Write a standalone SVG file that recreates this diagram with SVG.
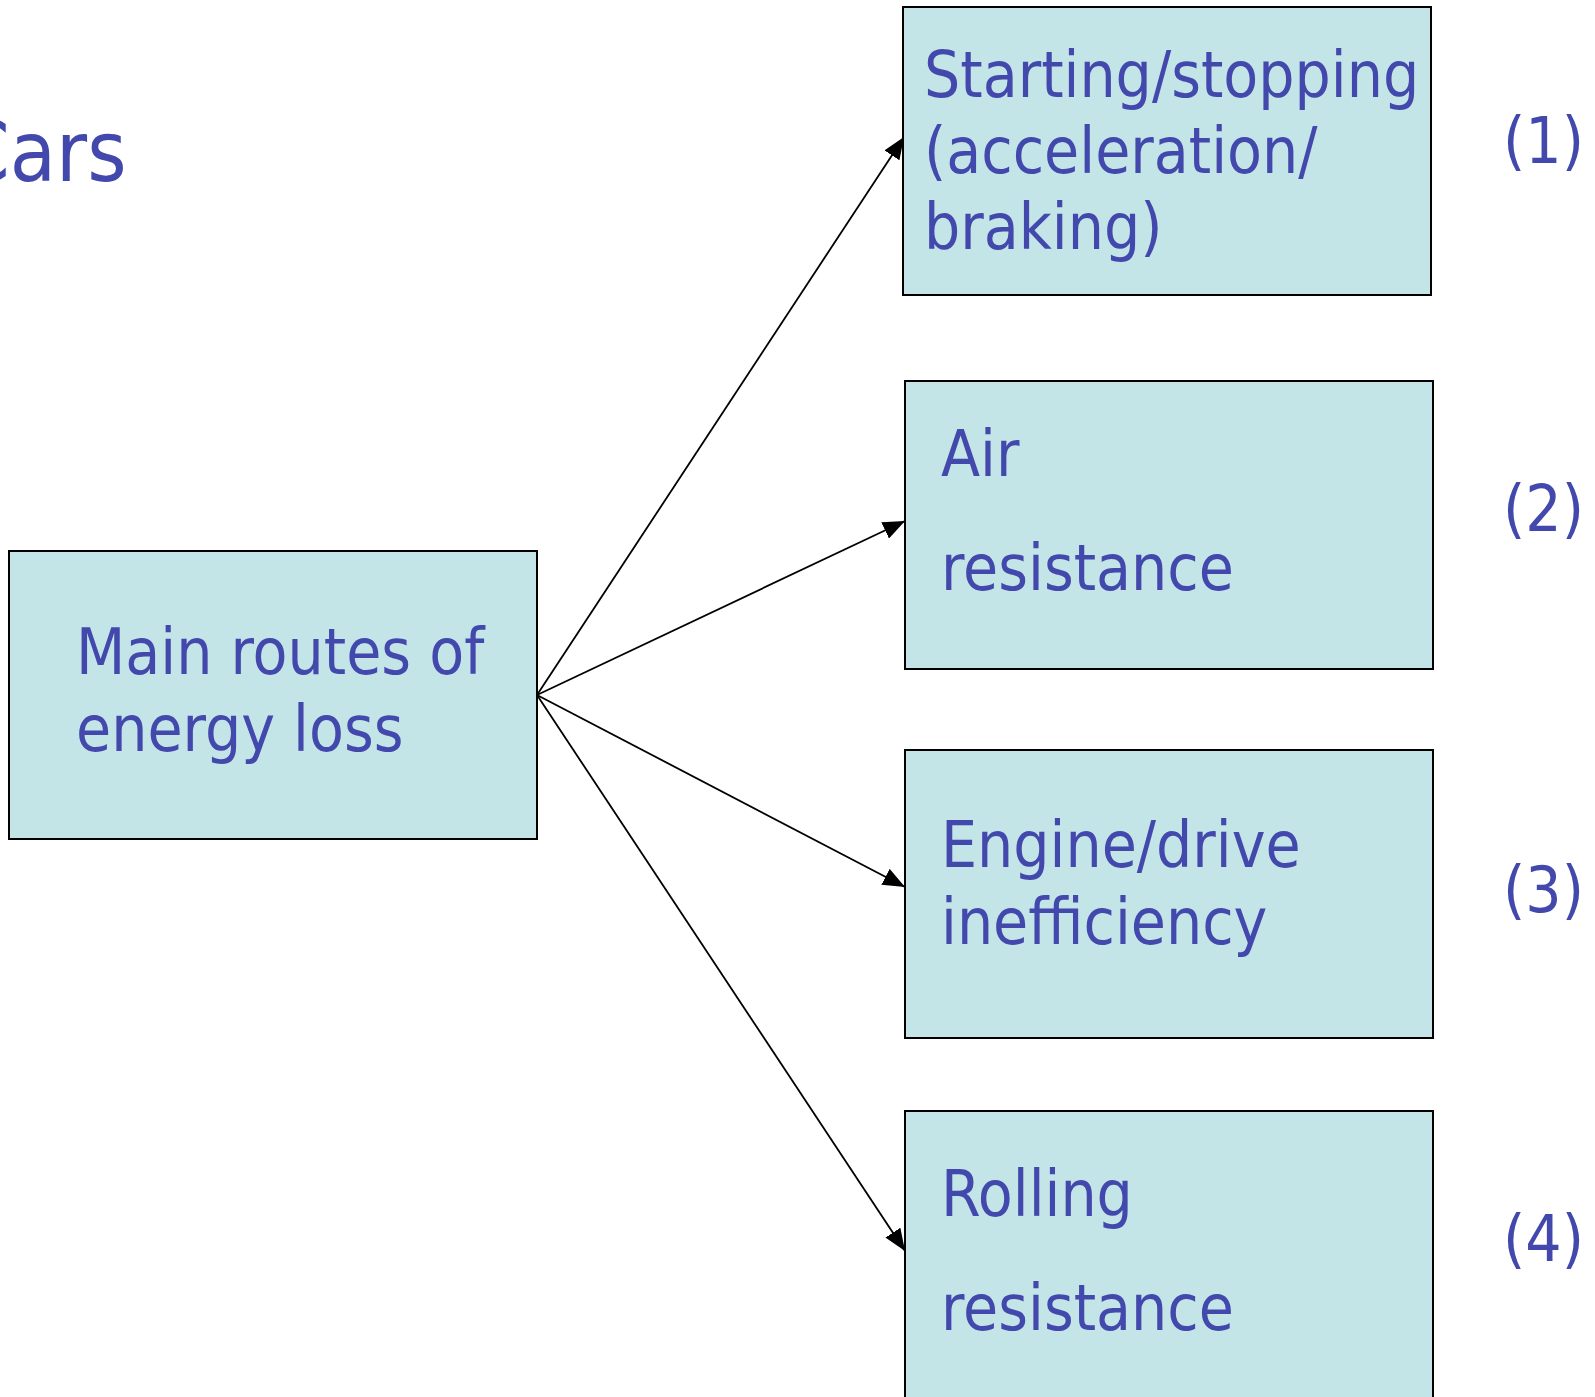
<svg xmlns="http://www.w3.org/2000/svg" width="1595" height="1397" viewBox="0 0 1595 1397">
<style>
.box{fill:#C4E5E8;stroke:#000;stroke-width:2}
.t{font-family:"DejaVu Sans Condensed","DejaVu Sans",sans-serif;fill:#4349AC;font-size:63.5px}
.edge{stroke:#000;stroke-width:1.8;fill:none;marker-end:url(#ah)}
</style>
<defs>
<marker id="ah" markerUnits="userSpaceOnUse" viewBox="0 0 22 18" refX="22" refY="9" markerWidth="22" markerHeight="18" orient="auto">
<path d="M0,0 L22,9 L0,18 Z" fill="#000"/>
</marker>
</defs>
<rect width="1595" height="1397" fill="#fff"/>
<text class="t" x="-43" y="181" style="font-size:84px">Cars</text>
<g id="edges">
<line class="edge" x1="537" y1="695" x2="904" y2="137"/>
<line class="edge" x1="537" y1="695" x2="905" y2="521"/>
<line class="edge" x1="537" y1="695" x2="905" y2="887"/>
<line class="edge" x1="537" y1="695" x2="905" y2="1251"/>
</g>
<g id="main">
<rect class="box" x="9" y="551" width="528" height="288"/>
<text class="t" x="76" y="674">Main routes of</text>
<text class="t" x="76" y="751">energy loss</text>
</g>
<g id="n1">
<rect class="box" x="903" y="7" width="528" height="288"/>
<text class="t" x="924" y="97">Starting/stopping</text>
<text class="t" x="924" y="173">(acceleration/</text>
<text class="t" x="924" y="249">braking)</text>
</g>
<g id="n2">
<rect class="box" x="905" y="381" width="528" height="288"/>
<text class="t" x="941" y="476">Air</text>
<text class="t" x="941" y="590">resistance</text>
</g>
<g id="n3">
<rect class="box" x="905" y="750" width="528" height="288"/>
<text class="t" x="941" y="867">Engine/drive</text>
<text class="t" x="941" y="944">inefficiency</text>
</g>
<g id="n4">
<rect class="box" x="905" y="1111" width="528" height="300"/>
<text class="t" x="941" y="1216">Rolling</text>
<text class="t" x="941" y="1330">resistance</text>
</g>
<g id="labels">
<text class="t" x="1503" y="163">(1)</text>
<text class="t" x="1503" y="531">(2)</text>
<text class="t" x="1503" y="912">(3)</text>
<text class="t" x="1503" y="1261">(4)</text>
</g>
</svg>
